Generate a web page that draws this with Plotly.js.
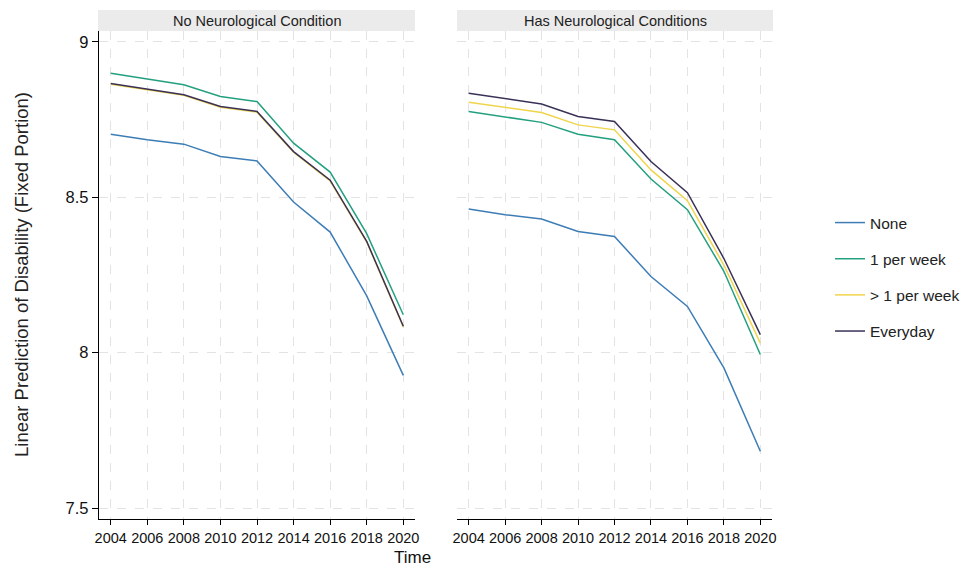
<!DOCTYPE html>
<html>
<head>
<meta charset="utf-8">
<script src="https://cdn.plot.ly/plotly-3.0.1.min.js"></script>
<style>html,body{margin:0;padding:0;background:#fff;}#chart{width:969px;height:570px;}</style>
</head>
<body>
<div id="chart"></div>
<script>
const years = [2004, 2006, 2008, 2010, 2012, 2014, 2016, 2018, 2020];
const seriesNames = ["None", "1 per week", "> 1 per week", "Everyday"];
const panelTitles = ["No Neurological Condition", "Has Neurological Conditions"];

const noCondNone     = [8.703, 8.685, 8.671, 8.631, 8.617, 8.485, 8.388, 8.183, 7.927];
const noCond1pw      = [8.899, 8.881, 8.862, 8.824, 8.808, 8.674, 8.581, 8.383, 8.122];
const noCondGt1pw    = [8.864, 8.846, 8.828, 8.790, 8.774, 8.645, 8.553, 8.356, 8.083];
const noCondEveryday = [8.866, 8.848, 8.830, 8.792, 8.776, 8.647, 8.555, 8.358, 8.085];

const hasCondNone     = [8.462, 8.444, 8.430, 8.390, 8.374, 8.245, 8.149, 7.951, 7.683];
const hasCond1pw      = [8.776, 8.758, 8.741, 8.703, 8.685, 8.559, 8.460, 8.262, 7.994];
const hasCondGt1pw    = [8.806, 8.790, 8.773, 8.733, 8.717, 8.588, 8.489, 8.282, 8.031];
const hasCondEveryday = [8.835, 8.817, 8.800, 8.760, 8.744, 8.615, 8.515, 8.303, 8.058];

const yTicks = [7.5, 8, 8.5, 9];

const colors = ["#3d7db5", "#23a07f", "#f0d44c", "#3a3157"];
const W = 969, H = 570;
const px = v => v / W;
const py = v => 1 - v / H;

const panels = [
  [noCondNone, noCond1pw, noCondGt1pw, noCondEveryday],
  [hasCondNone, hasCond1pw, hasCondGt1pw, hasCondEveryday]
];

const traces = [];
panels.forEach((set, p) => {
  set.forEach((vals, i) => {
    traces.push({
      x: years, y: vals, type: "scatter", mode: "lines",
      name: seriesNames[i],
      legendgroup: "g" + i,
      showlegend: p === 0,
      line: {color: colors[i], width: 1.5},
      xaxis: p === 0 ? "x" : "x2",
      yaxis: p === 0 ? "y" : "y2",
      hoverinfo: "skip"
    });
  });
});

const xRange = [2003.36, 2020.64];
const yRange = [7.465, 9.035];
const font = "Liberation Sans, Arial, sans-serif";

const xCommon = {
  range: xRange, tickvals: years, ticktext: years.map(String),
  showgrid: true, gridcolor: "#e3e3e3", griddash: "dash", gridwidth: 1,
  showline: true, linecolor: "#000", linewidth: 1.2,
  ticks: "outside", ticklen: 5, tickcolor: "#000",
  tickfont: {family: font, size: 14.5, color: "#111"},
  zeroline: false, fixedrange: true
};

const layout = {
  width: W, height: H,
  margin: {l: 0, r: 0, t: 0, b: 0},
  paper_bgcolor: "#fff", plot_bgcolor: "#fff",
  font: {family: font, color: "#111"},
  xaxis: Object.assign({}, xCommon, {domain: [px(99), px(415)], anchor: "y"}),
  xaxis2: Object.assign({}, xCommon, {domain: [px(457), px(772)], anchor: "y2"}),
  yaxis: {
    domain: [py(519), py(31)], range: yRange, tickvals: yTicks,
    ticktext: yTicks.map(String), anchor: "x",
    showgrid: true, gridcolor: "#e3e3e3", griddash: "dash",
    showline: true, linecolor: "#000", linewidth: 1.2,
    ticks: "outside", ticklen: 6, tickcolor: "#000",
    tickfont: {family: font, size: 16.5, color: "#111"},
    zeroline: false, fixedrange: true
  },
  yaxis2: {
    domain: [py(519), py(31)], range: yRange, tickvals: yTicks,
    showticklabels: false, anchor: "x2",
    showgrid: true, gridcolor: "#e3e3e3", griddash: "dash",
    showline: false, ticks: "",
    zeroline: false, fixedrange: true
  },
  showlegend: true,
  legend: {
    x: px(830), y: py(206), xanchor: "left", yanchor: "top",
    font: {family: font, size: 15.5, color: "#222"},
    traceorder: "grouped", tracegroupgap: 13,
    bgcolor: "rgba(0,0,0,0)"
  },
  shapes: [
    {type: "rect", xref: "paper", yref: "paper", x0: px(98), x1: px(415), y0: py(31), y1: py(10),
     fillcolor: "#ebebeb", line: {width: 0}, layer: "below"},
    {type: "rect", xref: "paper", yref: "paper", x0: px(457), x1: px(773), y0: py(31), y1: py(10),
     fillcolor: "#ebebeb", line: {width: 0}, layer: "below"}
  ],
  annotations: [
    {text: panelTitles[0], xref: "paper", yref: "paper", x: px(256.5), y: py(21),
     showarrow: false, xanchor: "center", yanchor: "middle", font: {family: font, size: 14.5, color: "#222"}},
    {text: panelTitles[1], xref: "paper", yref: "paper", x: px(615), y: py(21),
     showarrow: false, xanchor: "center", yanchor: "middle", font: {family: font, size: 14.5, color: "#222"}},
    {text: "Time", xref: "paper", yref: "paper", x: px(412), y: py(557),
     showarrow: false, xanchor: "center", yanchor: "middle", font: {family: font, size: 17, color: "#111"}},
    {text: "Linear Prediction of Disability (Fixed Portion)", xref: "paper", yref: "paper",
     x: px(22), y: py(275), textangle: -90,
     showarrow: false, xanchor: "center", yanchor: "middle", font: {family: font, size: 18.5, color: "#222"}}
  ]
};

Plotly.newPlot("chart", traces, layout, {displayModeBar: false, staticPlot: true});
</script>
</body>
</html>
